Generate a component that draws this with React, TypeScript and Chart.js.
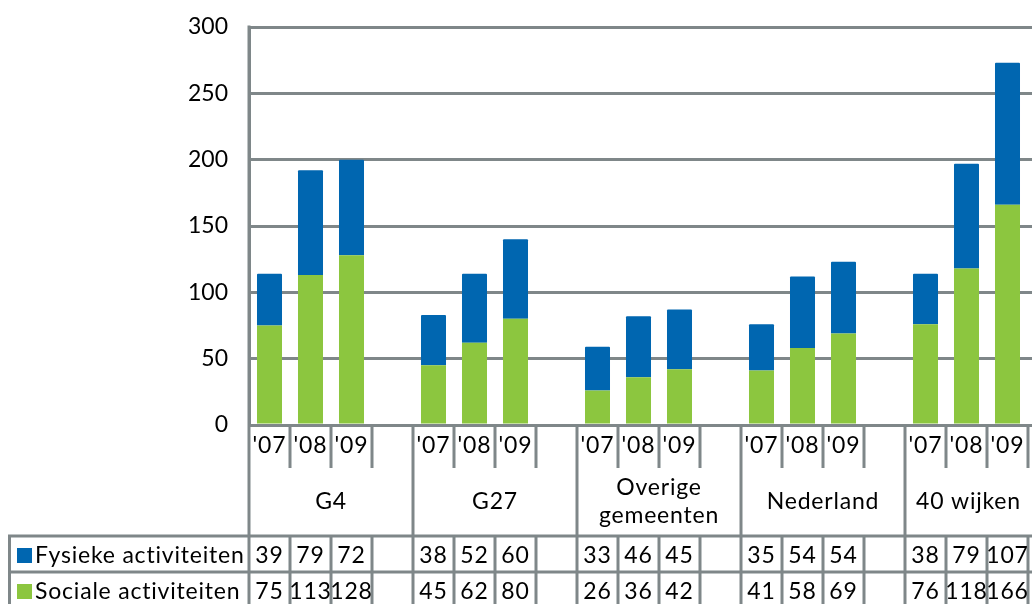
import { useEffect, useRef } from 'react';
import { Chart, registerables } from 'chart.js';
Chart.register(...registerables);

const groups = ['G4', 'G27', 'Overige\ngemeenten', 'Nederland', '40 wijken'];
const years = ["'07", "'08", "'09"];
const fysieke = [39, 79, 72, 38, 52, 60, 33, 46, 45, 35, 54, 54, 38, 79, 107];
const sociale = [75, 113, 128, 45, 62, 80, 26, 36, 42, 41, 58, 69, 76, 118, 166];
const seriesNames = ['Fysieke activiteiten', 'Sociale activiteiten'];
const yMin = 0;
const yMax = 300;
const yStep = 50;

const BLUE = '#0066b0';
const GREEN = '#8cc63f';
const GRAY = '#7f8789';
const FONT = 'Lato, "Open Sans", sans-serif';
const W = 1075;
const H = 604;
const VISIBLE_W = 1032;

// 4 slots per group: 3 years + 1 empty spacer
const labels: string[] = [];
const slotFys: (number | null)[] = [];
const slotSoc: (number | null)[] = [];
groups.forEach((g, gi) => {
  years.forEach((y, yi) => {
    labels.push(g.replace('\n', ' ') + ' ' + y);
    slotFys.push(fysieke[gi * 3 + yi]);
    slotSoc.push(sociale[gi * 3 + yi]);
  });
  labels.push('');
  slotFys.push(null);
  slotSoc.push(null);
});

const tablePlugin = {
  id: 'tablePlugin',
  afterDraw(chart: any) {
    const ctx = chart.ctx as CanvasRenderingContext2D;
    const area = chart.chartArea;
    const n = labels.length;
    const slotW = (area.right - area.left) / n;
    const y0 = area.bottom;
    const yearBottom = y0 + 43;
    const tableTop = y0 + 111;
    const rowMid = y0 + 147;
    const bottom = chart.height;
    ctx.save();
    ctx.strokeStyle = GRAY;
    ctx.lineWidth = 3;
    ctx.lineCap = 'butt';
    // vertical lines
    for (let i = 0; i <= n; i++) {
      const x = area.left + i * slotW;
      ctx.beginPath();
      if (i % 4 === 0) {
        ctx.moveTo(x, i === 0 ? area.top - 1.5 : y0);
        ctx.lineTo(x, bottom);
      } else {
        ctx.moveTo(x, y0);
        ctx.lineTo(x, yearBottom);
        ctx.moveTo(x, tableTop);
        ctx.lineTo(x, bottom);
      }
      ctx.stroke();
    }
    // horizontal lines
    ctx.beginPath();
    ctx.moveTo(8, tableTop);
    ctx.lineTo(chart.width, tableTop);
    ctx.moveTo(8, rowMid);
    ctx.lineTo(chart.width, rowMid);
    ctx.moveTo(9.5, tableTop);
    ctx.lineTo(9.5, bottom);
    ctx.stroke();

    ctx.fillStyle = '#000';
    ctx.textBaseline = 'middle';
    ctx.textAlign = 'center';
    ctx.font = `23px ${FONT}`;
    (ctx as any).letterSpacing = '0.8px';
    // year labels
    for (let i = 0; i < n; i++) {
      if (i % 4 === 3) continue;
      const cx = area.left + (i + 0.5) * slotW;
      ctx.fillText(years[i % 4], cx, y0 + 21);
    }
    // group names (centered in the visible part of the group)
    groups.forEach((g, gi) => {
      const gl = area.left + gi * 4 * slotW;
      const gr = Math.min(gl + 4 * slotW, VISIBLE_W);
      const cx = (gl + gr) / 2;
      const lines = g.split('\n');
      const cy = (yearBottom + tableTop) / 2;
      const lh = 28;
      lines.forEach((ln, li) => {
        ctx.fillText(ln, cx, cy + (li - (lines.length - 1) / 2) * lh);
      });
    });
    // data rows
    const rowYs = [(tableTop + rowMid) / 2 + 2, rowMid + 20];
    [fysieke, sociale].forEach((arr, ri) => {
      arr.forEach((v, k) => {
        const gi = Math.floor(k / 3);
        const yi = k % 3;
        const cx = area.left + (gi * 4 + yi + 0.5) * slotW;
        ctx.fillText(String(v), cx, rowYs[ri]);
      });
    });
    // legend cells
    ctx.textAlign = 'left';
    [BLUE, GREEN].forEach((c, ri) => {
      ctx.fillStyle = c;
      ctx.fillRect(17, rowYs[ri] - 8, 15, 15);
      ctx.fillStyle = '#000';
      ctx.fillText(seriesNames[ri], 35, rowYs[ri]);
    });
    ctx.restore();
  },
};

export default function App() {
  const ref = useRef<HTMLCanvasElement>(null);
  useEffect(() => {
    if (!ref.current) return;
    const chart = new Chart(ref.current, {
      type: 'bar',
      data: {
        labels,
        datasets: [
          {
            label: seriesNames[1],
            data: slotSoc,
            backgroundColor: GREEN,
            barPercentage: 0.61,
            categoryPercentage: 1,
            borderRadius: 1,
          },
          {
            label: seriesNames[0],
            data: slotFys,
            backgroundColor: BLUE,
            barPercentage: 0.61,
            categoryPercentage: 1,
            borderRadius: 1,
          },
        ],
      },
      options: {
        responsive: false,
        animation: false,
        layout: { padding: { top: 27, right: 6, left: 0, bottom: 0 } },
        plugins: { legend: { display: false }, tooltip: { enabled: false } },
        scales: {
          x: {
            stacked: true,
            ticks: { display: false },
            grid: { display: false },
            border: { display: false },
            afterFit: (s: any) => {
              s.height = 179;
            },
          },
          y: {
            stacked: true,
            min: yMin,
            max: yMax,
            ticks: {
              stepSize: yStep,
              padding: 21,
              color: '#000',
              font: { family: FONT, size: 23 },
            },
            grid: { color: GRAY, lineWidth: 3, drawTicks: false },
            border: { display: true, color: GRAY, width: 3 },
            afterFit: (s: any) => {
              s.width = 249;
              s.paddingTop = 0;
              s.paddingBottom = 0;
            },
          },
        },
      },
      plugins: [tablePlugin],
    });
    return () => chart.destroy();
  }, []);
  return (
    <div style={{ position: 'fixed', left: 0, top: 0, width: VISIBLE_W, height: 604, overflow: 'hidden', background: '#fff' }}>
      <canvas ref={ref} width={W} height={H} style={{ display: 'block' }} />
    </div>
  );
}
